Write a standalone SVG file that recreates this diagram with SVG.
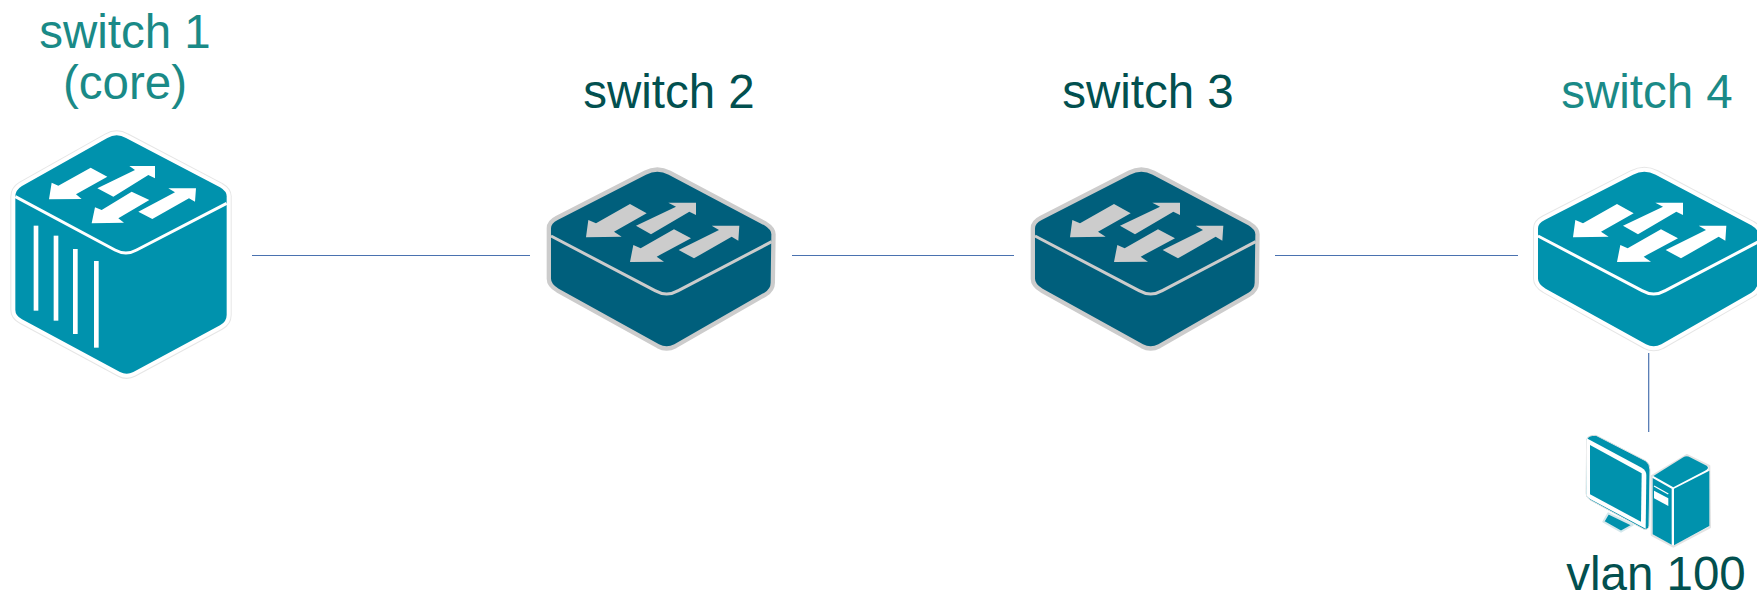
<svg xmlns="http://www.w3.org/2000/svg" xmlns:xlink="http://www.w3.org/1999/xlink" width="1757" height="594" viewBox="0 0 1757 594">
<style>
text{font-family:"Liberation Sans",Arial,sans-serif;font-size:47.5px;text-anchor:middle}
.teal{fill:#1a8a87}.dark{fill:#02504f}
.conn{stroke:#4a72b0;stroke-width:1.2;fill:none}
.b1{fill:#0092ad}.b2{fill:#005f7c}
.halo1o{fill:#fff;stroke:#e6e6e6;stroke-width:30;stroke-linejoin:round}
.halo1w{fill:#fff;stroke:#fff;stroke-width:24;stroke-linejoin:round}
.halo2{fill:#ccc;stroke:#ccc;stroke-width:26;stroke-linejoin:round}
.sepw{fill:none;stroke:#fff;stroke-width:9}.seps{fill:none;stroke:#ccc;stroke-width:9}
.aw{fill:#fff}.as{fill:#ccc}
</style>
<defs>
<path id="sb" d="M300,26Q334,8 368,26L655,178Q678,192 676,208L674,350Q674,368 655,380L385,535Q362,547 339,535L38,368Q15,354 15,338L15,187Q15,172 35,162Z"/>
<path id="ss" d="M15,210L327,374Q362,394 397,374L677,227"/>
<g id="sa">
<path d="M252,114L302,142L204,197L227,212L120,214L127,162L150,172Z"/>
<path d="M367,110L450,110L450,147L430,137L315,205L270,179L390,122Z"/>
<path d="M384,190L435,217L332,272L354,287L252,288L262,237L284,247Z"/>
<path d="M497,179L580,179L577,224L557,212L444,277L398,252L519,192Z"/>
</g>
<path id="cb" d="M322,414Q350,398 378,414L660,562Q682,575 680,592L680,945Q680,965 660,976L400,1116Q380,1127 360,1116L66,958Q46,947 46,930L46,590Q46,570 66,558Z"/>
</defs>
<g id="connectors">
<line class="conn" x1="252" y1="255.5" x2="530" y2="255.5"/>
<line class="conn" x1="792" y1="255.5" x2="1014" y2="255.5"/>
<line class="conn" x1="1275" y1="255.5" x2="1518" y2="255.5"/>
<line class="conn" x1="1648.7" y1="353" x2="1648.7" y2="432"/>
</g>
<g id="switch1">
<text class="teal" x="125" y="48">switch 1</text>
<text class="teal" x="125" y="99">(core)</text>
<g transform="scale(.33333)">
<use xlink:href="#cb" href="#cb" class="halo1o"/>
<use xlink:href="#cb" href="#cb" class="halo1w"/>
<use xlink:href="#cb" href="#cb" class="b1"/>
<path class="sepw" d="M46,590L345,750Q378,768 410,750L680,610"/>
<path class="aw" d="M272,503L322,530L228,583L245,597L147,598L155,548L175,557Z"/>
<path class="aw" d="M388,498L465,498L465,535L445,525L340,590L292,565L405,510Z"/>
<path class="aw" d="M395,575L448,600L355,655L372,668L275,670L285,622L305,630Z"/>
<path class="aw" d="M505,565L588,565L585,605L567,595L457,657L415,635L525,577Z"/>
<g fill="#fff"><rect x="101" y="677" width="14" height="255"/><rect x="161" y="707" width="14" height="255"/><rect x="219" y="747" width="14" height="255"/><rect x="282" y="783" width="14" height="260"/></g>
</g>
</g>
<g id="switch2">
<text class="dark" x="669" y="108">switch 2</text>
<g transform="translate(546,166) scale(.33333)">
<use xlink:href="#sb" href="#sb" class="halo2"/><use xlink:href="#sb" href="#sb" class="b2"/>
<use xlink:href="#ss" href="#ss" class="seps"/><use xlink:href="#sa" href="#sa" class="as"/>
</g>
</g>
<g id="switch3">
<text class="dark" x="1148" y="108">switch 3</text>
<g transform="translate(1030,166) scale(.33333)">
<use xlink:href="#sb" href="#sb" class="halo2"/><use xlink:href="#sb" href="#sb" class="b2"/>
<use xlink:href="#ss" href="#ss" class="seps"/><use xlink:href="#sa" href="#sa" class="as"/>
</g>
</g>
<g id="switch4">
<text class="teal" x="1647" y="108">switch 4</text>
<g transform="translate(1533,166) scale(.33333)">
<use xlink:href="#sb" href="#sb" class="halo1o"/><use xlink:href="#sb" href="#sb" class="halo1w"/><use xlink:href="#sb" href="#sb" class="b1"/>
<use xlink:href="#ss" href="#ss" class="sepw"/><use xlink:href="#sa" href="#sa" class="aw"/>
</g>
</g>
<g id="vlan100">
<g transform="translate(1540,400) scale(.33333)">
<path d="M205,340L190,365L243,395L278,375Z" fill="#0092ad" stroke="#d5e8ec" stroke-width="6" stroke-linejoin="round"/>
<path d="M140,118Q145,105 168,106L318,183Q330,192 330,210L327,378Q325,390 312,388L150,300Q138,292 138,280Z" fill="#0092ad" stroke="#e3e3e3" stroke-width="3"/>
<path d="M140,115L305,203Q319,212 319,225L317,386L150,297Q139,291 139,280Z" fill="#fff"/>
<path d="M150,135L305,220L303,365L150,283Z" fill="#0092ad"/>
<path d="M335,228L440,165L508,198L510,382L400,440L335,405Z" fill="#fff" stroke="#e3e3e3" stroke-width="6" stroke-linejoin="round"/>
<path d="M340,228L430,172Q440,166 450,172L500,197Q510,205 495,212L400,262Z" fill="#0092ad"/>
<path d="M338,234L395,266L395,434L338,403Z" fill="#0092ad"/>
<path d="M402,266L508,212L508,378L402,436Z" fill="#0092ad"/>
<path d="M342,258L385,282" stroke="#fff" stroke-width="4" fill="none"/>
<path d="M342,272L385,295L385,318L342,295Z" fill="#fff"/>
</g>
<text class="dark" x="1656" y="590">vlan 100</text>
</g>
</svg>
